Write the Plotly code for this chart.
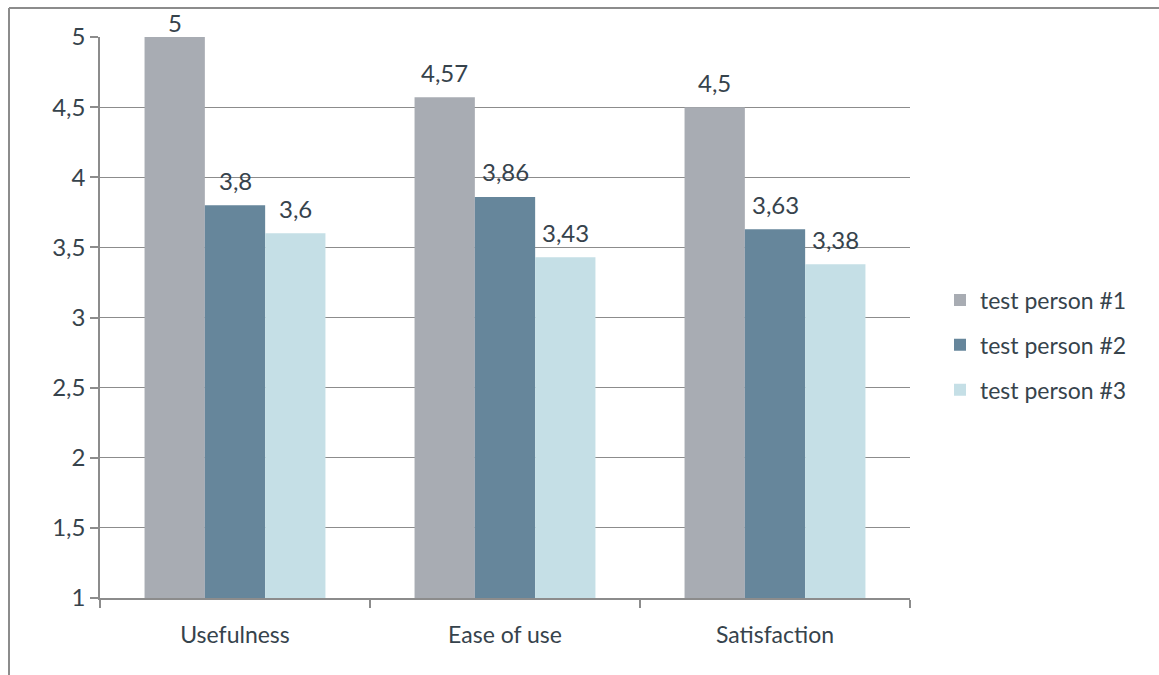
import plotly.graph_objects as go

# Survey scores per criterion for three test persons
categories = ["Usefulness", "Ease of use", "Satisfaction"]
person1 = [5.0, 4.57, 4.5]
person2 = [3.8, 3.86, 3.63]
person3 = [3.6, 3.43, 3.38]
series_names = ["test person #1", "test person #2", "test person #3"]
colors = ["#A8ACB3", "#66869B", "#C5DFE6"]
y_ticks = [1, 1.5, 2, 2.5, 3, 3.5, 4, 4.5, 5]

FONT = "Lato"
TEXT_COLOR = "#36434C"
GRID = "#8C8C8C"

W, H = 1159, 675
L, R, T, B = 100, 249, 37, 77
pw, ph = W - L - R, H - T - B
BARGAP = 0.33
Y_MIN, Y_MAX = 1, 5


def fmt(v):
    return ("%g" % v).replace(".", ",")


def px_x(p):
    return (p - L) / pw


def px_y(p):
    return (H - B - p) / ph


series = [person1, person2, person3]
fig = go.Figure()
for name, vals, col in zip(series_names, series, colors):
    fig.add_trace(go.Bar(
        x=categories, y=vals, name=name, legendgroup=name,
        marker=dict(color=col, line=dict(width=0)),
        cliponaxis=False,
    ))

# value labels above each bar, offset sideways to the bar's slot in the group
slot_px = (1 - BARGAP) * (pw / len(categories)) / len(series)
for i, vals in enumerate(series):
    for cat, v in zip(categories, vals):
        bar_top_px = (Y_MAX - v) / (Y_MAX - Y_MIN) * ph
        shift = 25 if bar_top_px >= 25 else 15
        fig.add_annotation(
            x=cat, y=v, xref="x", yref="y", text=fmt(v), showarrow=False,
            xshift=(i - (len(series) - 1) / 2) * slot_px, yshift=shift,
            yanchor="middle", xanchor="center",
            font=dict(family=FONT, size=24, color=TEXT_COLOR),
        )

# outer frame of the chart area (top and left edges)
fig.add_shape(type="line", xref="paper", yref="paper",
              x0=px_x(9), x1=px_x(9), y0=px_y(8), y1=px_y(700),
              line=dict(color="#8C8C8C", width=2))
fig.add_shape(type="line", xref="paper", yref="paper",
              x0=px_x(9), x1=px_x(1200), y0=px_y(8), y1=px_y(8),
              line=dict(color="#8C8C8C", width=2))

fig.update_layout(
    width=W, height=H,
    margin=dict(l=L, r=R, t=T, b=B),
    paper_bgcolor="white", plot_bgcolor="white",
    separators=", ",
    barmode="group", bargap=BARGAP, bargroupgap=0,
    font=dict(family=FONT, color=TEXT_COLOR),
    showlegend=True,
    legend=dict(
        x=px_x(940), y=px_y(345), xanchor="left", yanchor="middle",
        font=dict(family=FONT, size=23, color=TEXT_COLOR),
        traceorder="grouped", tracegroupgap=12,
        bgcolor="rgba(0,0,0,0)",
    ),
)
fig.update_xaxes(
    showline=True, linecolor=GRID, linewidth=1.5,
    ticks="outside", tickson="boundaries", ticklen=8, tickcolor=GRID, tickwidth=1.5,
    tickfont=dict(family=FONT, size=23, color=TEXT_COLOR),
    ticklabelstandoff=16,
    showgrid=False,
)
fig.update_yaxes(
    range=[Y_MIN, Y_MAX], tickvals=y_ticks, ticktext=[fmt(v) for v in y_ticks],
    showline=True, linecolor=GRID, linewidth=1.5,
    ticks="outside", ticklen=8, tickcolor=GRID, tickwidth=1.5,
    tickfont=dict(family=FONT, size=24, color=TEXT_COLOR),
    showgrid=True, gridcolor=GRID, gridwidth=1.2,
    zeroline=False,
)

fig.write_html("out.html")
